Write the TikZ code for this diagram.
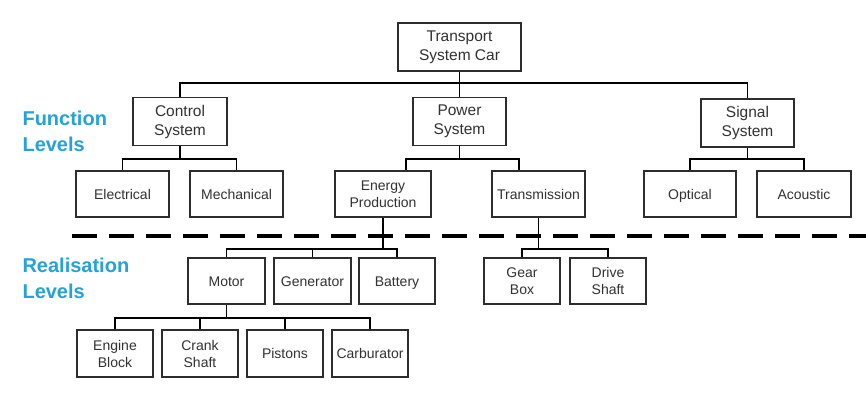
\documentclass[tikz,border=0pt]{standalone}
\usepackage{fontspec}
\setmainfont{Liberation Sans}
\usetikzlibrary{calc}
\definecolor{lvlblue}{RGB}{38,162,214}
\definecolor{boxline}{RGB}{45,45,45}
\definecolor{txt}{RGB}{50,50,50}
\tikzset{
  box/.style={draw=boxline, line width=1.8pt, fill=white, align=center, inner sep=0pt, text=txt},
  bigbox/.style={box, font=\fontsize{15.5}{19}\selectfont},
  smallbox/.style={box, font=\fontsize{14}{17}\selectfont},
  oneline/.style={text height=10pt, text depth=0pt},
  conn/.style={draw=black, line width=1.8pt},
  level/.style={anchor=west, align=left, text=lvlblue, font=\fontsize{20}{26}\selectfont\bfseries},
  divider/.style={draw=black, line width=4.5pt, dash pattern=on 25pt off 12pt}
}
\begin{document}
\begin{tikzpicture}[x=1pt,y=-1pt]
\useasboundingbox (0,0) rectangle (866,413);
\fill[white] (0,0) rectangle (866,413);

% divider line
\coordinate (dl) at (72,236);
\coordinate (dr) at (866,236);
\draw[divider] (dl) -- (dr);

% level labels
\node[level] (fl) at (19,131) {Function\\Levels};
\node[level] (rl) at (19,278.5) {Realisation\\Levels};

% top
\node[bigbox, minimum width=123pt, minimum height=48pt] (top) at (459.5,47) {Transport\\System Car};

% level 1
\node[bigbox, minimum width=94pt, minimum height=48pt] (ctrl) at (180,121.5) {Control\\System};
\node[bigbox, minimum width=93pt, minimum height=48pt] (pow) at (459.5,121.5) {Power\\System};
\node[bigbox, minimum width=93pt, minimum height=48pt] (sig) at (747.5,123) {Signal\\System};

% level 2
\node[smallbox, oneline, minimum width=93pt, minimum height=46pt] (elec) at (122.5,194) {Electrical};
\node[smallbox, oneline, minimum width=93pt, minimum height=46pt] (mech) at (236.5,194) {Mechanical};
\node[smallbox, minimum width=96pt, minimum height=46pt] (energy) at (383,194) {Energy\\Production};
\node[smallbox, oneline, minimum width=93pt, minimum height=46pt] (trans) at (538.5,194) {Transmission};
\node[smallbox, oneline, minimum width=92pt, minimum height=46pt] (opt) at (690,194) {Optical};
\node[smallbox, oneline, minimum width=94pt, minimum height=46pt] (acou) at (804,194) {Acoustic};

% realisation level
\node[smallbox, oneline, minimum width=77pt, minimum height=46pt] (motor) at (226.5,281) {Motor};
\node[smallbox, oneline, minimum width=77pt, minimum height=46pt] (gen) at (312.5,281) {Generator};
\node[smallbox, oneline, minimum width=76pt, minimum height=46pt] (batt) at (397,281) {Battery};
\node[smallbox, minimum width=76pt, minimum height=46pt] (gear) at (522,281) {Gear\\Box};
\node[smallbox, minimum width=76pt, minimum height=46pt] (drive) at (608,281) {Drive\\Shaft};

\node[smallbox, minimum width=76pt, minimum height=47pt] (eblock) at (115,353.5) {Engine\\Block};
\node[smallbox, minimum width=76pt, minimum height=47pt] (crank) at (200,353.5) {Crank\\Shaft};
\node[smallbox, oneline, minimum width=76pt, minimum height=47pt] (pist) at (285,353.5) {Pistons};
\node[smallbox, oneline, minimum width=76pt, minimum height=47pt] (carb) at (370,353.5) {Carburator};

% bus coordinates
\coordinate (b1) at (0,83);
\coordinate (b2) at (0,159);
\coordinate (b3) at (0,249);
\coordinate (b4) at (0,318);
\coordinate (enin) at ($(energy.north)+(23,0)$);
\coordinate (trin) at ($(trans.north)+(-19.5,0)$);

% connectors: top
\draw[conn] (top) -- (pow);
\draw[conn] (ctrl.north) -- (ctrl.north |- b1) -- (sig.north |- b1) -- (sig.north);

% control children
\draw[conn] (ctrl) -- (ctrl.south |- b2);
\draw[conn] (elec.north) -- (elec.north |- b2) -- (mech.north |- b2) -- (mech.north);

% power children
\draw[conn] (pow) -- (pow.south |- b2);
\draw[conn] (enin) -- (enin |- b2) -- (trin |- b2) -- (trin);

% signal children
\draw[conn] (sig) -- (sig.south |- b2);
\draw[conn] (opt.north) -- (opt.north |- b2) -- (acou.north |- b2) -- (acou.north);

% energy production children
\draw[conn] (energy) -- (energy.south |- b3);
\draw[conn] (motor.north) -- (motor.north |- b3) -- (batt.north |- b3) -- (batt.north);
\draw[conn] (gen.north) -- (gen.north |- b3);

% transmission children
\draw[conn] (trans) -- (trans.south |- b3);
\draw[conn] (gear.north) -- (gear.north |- b3) -- (drive.north |- b3) -- (drive.north);

% motor children
\draw[conn] (motor) -- (motor.south |- b4);
\draw[conn] (eblock.north) -- (eblock.north |- b4) -- (carb.north |- b4) -- (carb.north);
\draw[conn] (crank.north) -- (crank.north |- b4);
\draw[conn] (pist.north) -- (pist.north |- b4);
\end{tikzpicture}
\end{document}
